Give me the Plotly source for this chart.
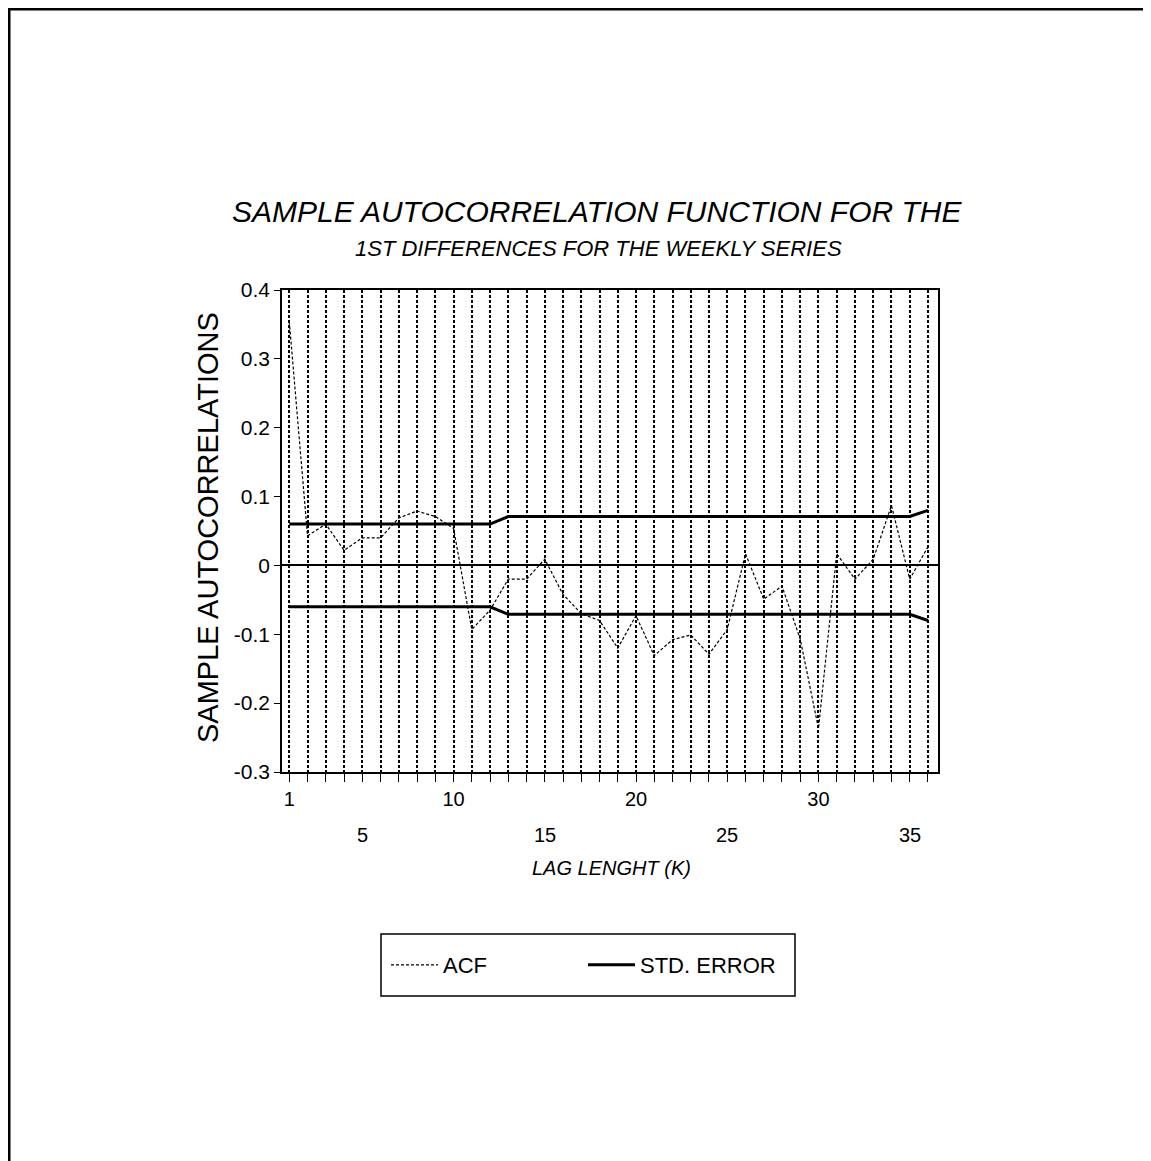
import plotly.graph_objects as go

# ---- data ----
lags = list(range(1, 37))
acf = [0.354, 0.043, 0.060, 0.022, 0.040, 0.040, 0.069, 0.079, 0.071, 0.054,
       -0.093, -0.065, -0.020, -0.020, 0.009, -0.042, -0.070, -0.080, -0.120, -0.073,
       -0.131, -0.108, -0.101, -0.129, -0.093, 0.017, -0.049, -0.030, -0.107, -0.237,
       0.017, -0.020, 0.009, 0.087, -0.020, 0.027]
std_error = [0.060, 0.060, 0.060, 0.060, 0.060, 0.060, 0.060, 0.060, 0.060, 0.060,
             0.060, 0.060, 0.071, 0.071, 0.071, 0.071, 0.071, 0.071, 0.071, 0.071,
             0.071, 0.071, 0.071, 0.071, 0.071, 0.071, 0.071, 0.071, 0.071, 0.071,
             0.071, 0.071, 0.071, 0.071, 0.071, 0.080]
xlabels_row1 = [1, 10, 20, 30]
xlabels_row2 = [5, 15, 25, 35]
yticks = [-0.3, -0.2, -0.1, 0, 0.1, 0.2, 0.3, 0.4]
ytick_text = ["-0.3", "-0.2", "-0.1", "0", "0.1", "0.2", "0.3", "0.4"]

title_main = "SAMPLE AUTOCORRELATION FUNCTION FOR THE"
title_sub = "1ST DIFFERENCES FOR THE WEEKLY SERIES"
x_title = "LAG LENGHT (K)"
y_title = "SAMPLE AUTOCORRELATIONS"

FONT = "Liberation Sans, Arial, Helvetica, sans-serif"

# page body has an 8px margin around the figure
OFF = 8
W, H = 1151 - OFF, 1161 - OFF
# plot-area edges in page pixels
PL, PR, PT, PB = 282, 938, 290, 772
L, R, T, B = PL - OFF, PR - OFF, PT - OFF, PB - OFF
pw, ph = R - L, B - T


def px(xpage):
    return (xpage - OFF - L) / pw


def py(ypage):
    return (B - (ypage - OFF)) / ph


fig = go.Figure()
fig.add_trace(go.Scatter(
    x=lags, y=acf, mode="lines", name="ACF",
    line=dict(color="black", width=1.2, dash="3px,2px"),
))
fig.add_trace(go.Scatter(
    x=lags, y=std_error, mode="lines", name="STD. ERROR", legendgroup="se",
    line=dict(color="black", width=3),
))
fig.add_trace(go.Scatter(
    x=lags, y=[-v for v in std_error], mode="lines", name="STD. ERROR",
    legendgroup="se", showlegend=False,
    line=dict(color="black", width=3),
))

ticktext = [str(l) if l in xlabels_row1 else "" for l in lags]

fig.update_layout(
    width=W, height=H,
    margin=dict(l=L, r=W - R, t=T, b=H - B, pad=0),
    paper_bgcolor="white", plot_bgcolor="white",
    showlegend=True,
    legend=dict(
        orientation="h", x=px(386), y=py(965), xanchor="left", yanchor="middle",
        font=dict(family=FONT, size=22, color="black"),
        itemwidth=47, entrywidth=135, entrywidthmode="pixels",
        bgcolor="rgba(0,0,0,0)", borderwidth=0,
    ),
    xaxis=dict(
        range=[0.6, 36.55], tickmode="array", tickvals=lags, ticktext=ticktext,
        ticks="outside", ticklen=8, tickwidth=1, tickcolor="black",
        showline=True, linecolor="black", linewidth=1.5, mirror=True,
        showgrid=True, gridcolor="black", gridwidth=1.6, griddash="3px,2px",
        zeroline=False,
        tickfont=dict(family=FONT, size=20, color="black"),
    ),
    yaxis=dict(
        range=[-0.3, 0.4], tickmode="array", tickvals=yticks, ticktext=ytick_text,
        ticks="outside", ticklen=6, tickwidth=1, tickcolor="black",
        showline=True, linecolor="black", linewidth=1.5, mirror=True,
        showgrid=False,
        zeroline=True, zerolinecolor="black", zerolinewidth=2,
        tickfont=dict(family=FONT, size=21, color="black"),
    ),
)

annotations = [
    dict(text=title_main, x=px(597), y=py(212), xref="paper", yref="paper",
         showarrow=False, xanchor="center", yanchor="middle",
         font=dict(family=FONT, size=30, color="black", style="italic")),
    dict(text=title_sub, x=px(598), y=py(248), xref="paper", yref="paper",
         showarrow=False, xanchor="center", yanchor="middle",
         font=dict(family=FONT, size=22, color="black", style="italic")),
    dict(text=x_title, x=px(611), y=py(868), xref="paper", yref="paper",
         showarrow=False, xanchor="center", yanchor="middle",
         font=dict(family=FONT, size=20, color="black", style="italic")),
    dict(text=y_title, x=px(208), y=py(528), xref="paper", yref="paper",
         showarrow=False, xanchor="center", yanchor="middle", textangle=-90,
         font=dict(family=FONT, size=29, color="black")),
]
for v in xlabels_row2:
    annotations.append(dict(text=str(v), x=v, y=py(835), xref="x", yref="paper",
                            showarrow=False, xanchor="center", yanchor="middle",
                            font=dict(family=FONT, size=20, color="black")))
fig.update_layout(annotations=annotations)

shapes = [
    # legend box
    dict(type="rect", xref="paper", yref="paper", x0=px(381), x1=px(795),
         y0=py(996), y1=py(934), line=dict(color="black", width=1.5)),
    # page frame (top and left)
    dict(type="line", xref="paper", yref="paper", x0=px(8), x1=px(1151),
         y0=py(9), y1=py(9), line=dict(color="black", width=3)),
    dict(type="line", xref="paper", yref="paper", x0=px(9), x1=px(9),
         y0=py(8), y1=py(1161), line=dict(color="black", width=3)),
]
fig.update_layout(shapes=shapes)

fig.write_html("out.html")
